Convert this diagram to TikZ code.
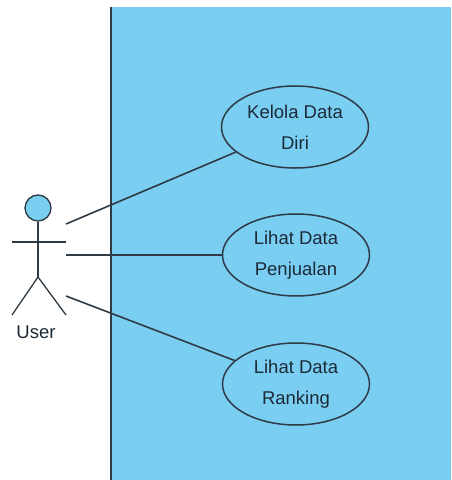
\documentclass[tikz,border=0pt]{standalone}
\usepackage{fontspec}
\setmainfont{Liberation Sans}
\usetikzlibrary{shapes.geometric}
\definecolor{sysblue}{HTML}{7ACEF2}
\definecolor{inkline}{HTML}{2E3A44}
\definecolor{inktext}{HTML}{1C2A38}
\tikzset{
  usecase/.style={ellipse, draw=inkline, line width=1.5pt, inner sep=0pt,
    minimum width=147pt, minimum height=82pt, align=center,
    text=inktext, font=\fontsize{18.5}{31}\selectfont},
  actorline/.style={draw=inkline, line width=1.3pt},
  assoc/.style={draw=inkline, line width=1.6pt}
}
\begin{document}
\begin{tikzpicture}[x=1pt,y=-1pt]
  \useasboundingbox (0,0) rectangle (451,480);
  \fill[white] (0,0) rectangle (451,480);
  % system boundary
  \fill[sysblue] (110,7) rectangle (451,480);
  \draw[inkline, line width=2.2pt] (111,7) -- (111,480);

  % actor
  \node[circle, draw=inkline, fill=sysblue, line width=1.3pt,
        minimum size=26pt, inner sep=0pt] (head) at (38,208) {};
  \coordinate (hip) at (38,277);
  \coordinate (armL) at (12,242);
  \coordinate (armR) at (66,242);
  \coordinate (legL) at (12,315);
  \coordinate (legR) at (66,315);
  \path[actorline] (head.south) -- (hip);
  \path[actorline] (armL) -- (armR);
  \path[actorline] (legL) -- (hip) -- (legR);
  \node[text=inktext, font=\fontsize{18.5}{20}\selectfont] (user) at (36,332) {User};

  % use cases
  \node[usecase] (uc1) at (295,127) {Kelola Data\\Diri};
  \node[usecase] (uc2) at (296,255) {Lihat Data\\Penjualan};
  \node[usecase] (uc3) at (296,384) {Lihat Data\\Ranking};

  % associations
  \coordinate (a1) at (66,224);
  \coordinate (a2) at (66,255);
  \coordinate (a3) at (66,296);
  \path[assoc] (a1) -- (uc1);
  \path[assoc] (a2) -- (uc2);
  \path[assoc] (a3) -- (uc3);
\end{tikzpicture}
\end{document}
